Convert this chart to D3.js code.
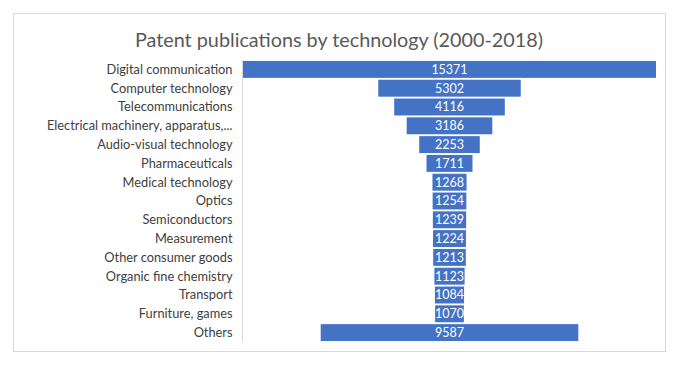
<!DOCTYPE html>
<html>
<head>
<meta charset="utf-8">
<script src="https://cdn.jsdelivr.net/npm/d3@7"></script>
<style>
  html, body { margin: 0; padding: 0; background: #fff; }
  svg { display: block; }
</style>
</head>
<body>
<svg id="chart" width="688" height="367"></svg>
<script>
const title = "Patent publications by technology (2000-2018)";
const categories = [
  "Digital communication", "Computer technology", "Telecommunications",
  "Electrical machinery, apparatus,...", "Audio-visual technology", "Pharmaceuticals",
  "Medical technology", "Optics", "Semiconductors", "Measurement",
  "Other consumer goods", "Organic fine chemistry", "Transport",
  "Furniture, games", "Others"
];
const values = [15371, 5302, 4116, 3186, 2253, 1711, 1268, 1254, 1239, 1224, 1213, 1123, 1084, 1070, 9587];

const svg = d3.select("#chart");
const font = "Lato, 'Open Sans', sans-serif";

svg.append("rect").attr("x", 13.5).attr("y", 13.5).attr("width", 652).attr("height", 338)
  .attr("fill", "#fff").attr("stroke", "#d9d9d9").attr("stroke-width", 1);

svg.append("text").attr("x", 339).attr("y", 47).attr("text-anchor", "middle")
  .attr("font-family", font).attr("font-size", 19.8).attr("fill", "#595959").text(title);

const axisX = 242.5;
const center = 449.5;
const y = d3.scaleBand().domain(categories).range([60, 342]).paddingInner(0.1).paddingOuter(0.05);
const half = d3.scaleLinear().domain([0, d3.max(values)]).range([0, 206.5]);

svg.append("line").attr("x1", axisX).attr("x2", axisX).attr("y1", 60).attr("y2", 342)
  .attr("stroke", "#d9d9d9").attr("stroke-width", 1);

const data = categories.map((c, i) => ({c, v: values[i]}));

svg.append("g").selectAll("rect").data(data).join("rect")
  .attr("x", d => center - half(d.v))
  .attr("width", d => 2 * half(d.v))
  .attr("y", d => y(d.c))
  .attr("height", y.bandwidth())
  .attr("fill", "#4472c4");

svg.append("g").selectAll("text").data(data).join("text")
  .attr("x", center).attr("y", d => y(d.c) + y.bandwidth() / 2)
  .attr("dy", "0.35em").attr("text-anchor", "middle")
  .attr("font-family", font).attr("font-size", 12.5).attr("fill", "#fff")
  .text(d => d.v);

svg.append("g").selectAll("text").data(data).join("text")
  .attr("x", axisX - 10).attr("y", d => y(d.c) + y.bandwidth() / 2)
  .attr("dy", "0.35em").attr("text-anchor", "end")
  .attr("font-family", font).attr("font-size", 12.8).attr("fill", "#404040")
  .text(d => d.c);
</script>
</body>
</html>
